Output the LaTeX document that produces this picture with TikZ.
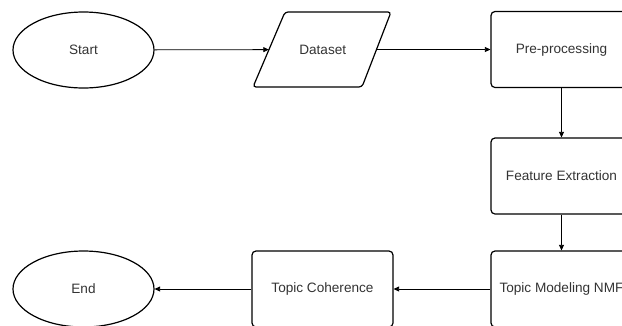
\documentclass[tikz,border=0pt]{standalone}
\usepackage{fontspec}
\setmainfont{Liberation Sans}
\usetikzlibrary{arrows.meta,shapes.geometric}
\definecolor{labelgray}{HTML}{333333}
\begin{document}
\begin{tikzpicture}[x=1pt,y=-1pt,
  every node/.style={font=\fontsize{13.6}{16}\selectfont, text=labelgray, inner sep=0pt},
  terminal/.style={draw=black, line width=1.2pt, ellipse, minimum width=141, minimum height=76},
  process/.style={draw=black, line width=1.2pt, rectangle, rounded corners=4pt, minimum width=141, minimum height=76},
  outline/.style={draw=black, line width=1.2pt, rounded corners=3pt},
  flow/.style={draw=black, line width=0.8pt, -{Triangle[length=5.5pt,width=5pt]}}]
\useasboundingbox (0,0) rectangle (622,325);
\clip (0,0) rectangle (622,325);
\node[terminal] (start) at (83.5,50) {Start};
% data input: slanted parallelogram, text node spans its mid-height width
\draw[outline] (253,87) -- (285,12) -- (391,12) -- (362,87) -- cycle;
\node[minimum width=107.5, minimum height=75] (dataset) at (322.75,49.5) {Dataset};
\node[process] (pre) at (561.5,49.5) {Pre-processing};
\node[process] (feat) at (561.5,176) {Feature Extraction};
\node[process] (tm) at (561.5,289) {Topic Modeling NMF};
\node[process] (tc) at (322.5,289) {Topic Coherence};
\node[terminal] (end) at (83.5,289) {End};
\draw[flow] (start) -- (dataset);
\draw[flow] (dataset) -- (pre);
\draw[flow] (pre) -- (feat);
\draw[flow] (feat) -- (tm);
\draw[flow] (tm) -- (tc);
\draw[flow] (tc) -- (end);
\end{tikzpicture}
\end{document}
